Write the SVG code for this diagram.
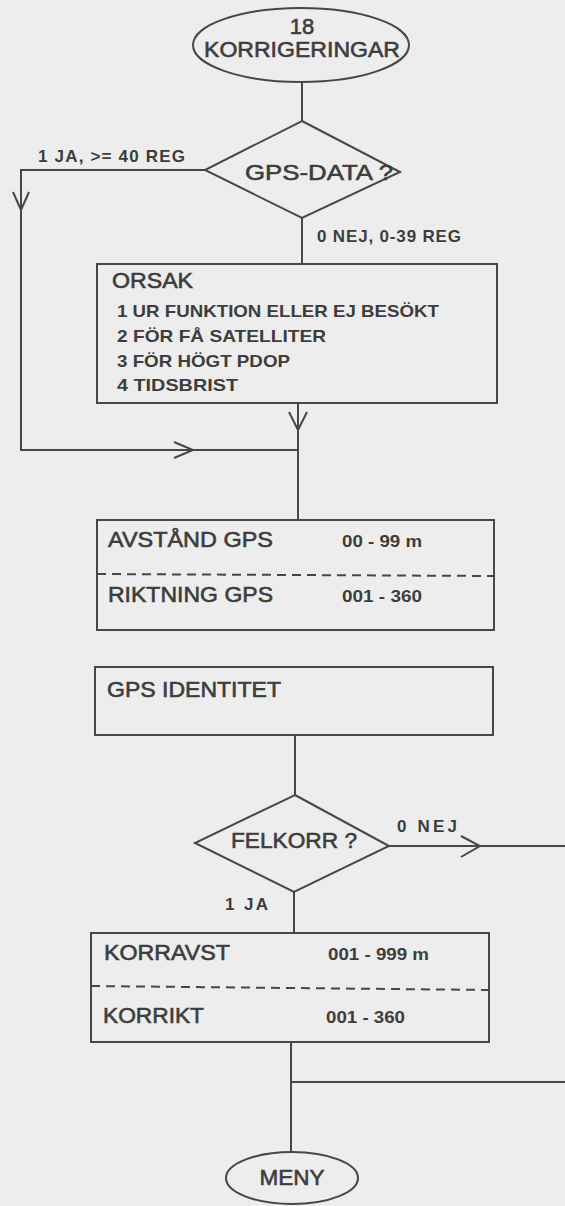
<svg xmlns="http://www.w3.org/2000/svg" width="565" height="1206" viewBox="0 0 565 1206">
<style>
.bg{fill:#ededed}
.shape{fill:none;stroke:#474747;stroke-width:2}
.line{fill:none;stroke:#474747;stroke-width:2}
.dash{fill:none;stroke:#474747;stroke-width:2;stroke-dasharray:9,6}
.chev{fill:none;stroke:#474747;stroke-width:2;stroke-linejoin:miter}
text{font-family:"Liberation Sans",Arial,Helvetica,sans-serif;fill:#3d3d3d}
.big{font-size:22px;stroke:#3d3d3d;stroke-width:0.6}
.small{font-size:17px;font-weight:bold}
.mid{font-weight:bold;font-size:17px}
</style>
<rect class="bg" x="0" y="0" width="565" height="1206"/>

<g id="connectors">
  <line class="line" x1="302" y1="82" x2="302" y2="121"/>
  <polyline class="line" points="205,170 21,170 21,450 298,450"/>
  <polyline class="chev" points="13,192 21,210 29,192"/>
  <polyline class="chev" points="174,442 193,450 174,458"/>
  <line class="line" x1="302" y1="218" x2="302" y2="264"/>
  <line class="line" x1="298" y1="403" x2="298" y2="520"/>
  <polyline class="chev" points="289,412 298,430 307,412"/>
  <line class="line" x1="295" y1="735" x2="295" y2="795"/>
  <line class="line" x1="389" y1="846" x2="565" y2="846"/>
  <polyline class="chev" points="461,836 480,846 461,857"/>
  <line class="line" x1="294" y1="892" x2="294" y2="933"/>
  <line class="line" x1="291" y1="1042" x2="291" y2="1152"/>
  <line class="line" x1="291" y1="1082" x2="565" y2="1082"/>
  <text class="small" x="38" y="162" textLength="147" lengthAdjust="spacing">1 JA, &gt;= 40 REG</text>
  <text class="small" x="317" y="242" textLength="144" lengthAdjust="spacing">0 NEJ, 0-39 REG</text>
  <text class="small" x="397" y="832" textLength="60" lengthAdjust="spacing">0 NEJ</text>
  <text class="small" x="225" y="910" textLength="43" lengthAdjust="spacing">1 JA</text>
</g>

<g id="start">
  <ellipse class="shape" cx="301" cy="45" rx="108" ry="37"/>
  <text class="big" x="302" y="34" text-anchor="middle">18</text>
  <text class="big" x="302" y="57" text-anchor="middle" textLength="196" lengthAdjust="spacingAndGlyphs">KORRIGERINGAR</text>
</g>

<g id="gpsdata">
  <polygon class="shape" points="302,121 400,172 302,218 205,170"/>
  <text class="big" x="245" y="180" textLength="148" lengthAdjust="spacingAndGlyphs">GPS-DATA ?</text>
</g>

<g id="orsak">
  <rect class="shape" x="97" y="264" width="400" height="139"/>
  <text class="big" x="112" y="288" textLength="81" lengthAdjust="spacingAndGlyphs">ORSAK</text>
  <text class="mid" x="117" y="317" textLength="322" lengthAdjust="spacingAndGlyphs">1 UR FUNKTION ELLER EJ BESÖKT</text>
  <text class="mid" x="117" y="342" textLength="209" lengthAdjust="spacingAndGlyphs">2 FÖR FÅ SATELLITER</text>
  <text class="mid" x="117" y="367" textLength="173" lengthAdjust="spacingAndGlyphs">3 FÖR HÖGT PDOP</text>
  <text class="mid" x="117" y="391" textLength="121" lengthAdjust="spacingAndGlyphs">4 TIDSBRIST</text>
</g>

<g id="avstand">
  <rect class="shape" x="97" y="520" width="397" height="110"/>
  <line class="dash" x1="97" y1="574" x2="495" y2="576"/>
  <text class="big" x="108" y="547" textLength="165" lengthAdjust="spacingAndGlyphs">AVSTÅND GPS</text>
  <text class="small" x="342" y="547" textLength="80" lengthAdjust="spacingAndGlyphs">00 - 99 m</text>
  <text class="big" x="108" y="602" textLength="165" lengthAdjust="spacingAndGlyphs">RIKTNING GPS</text>
  <text class="small" x="342" y="602" textLength="80" lengthAdjust="spacingAndGlyphs">001 - 360</text>
</g>

<g id="identitet">
  <rect class="shape" x="95" y="667" width="398" height="68"/>
  <text class="big" x="107" y="697" textLength="174" lengthAdjust="spacingAndGlyphs">GPS IDENTITET</text>
</g>

<g id="felkorr">
  <polygon class="shape" points="295,795 389,846 294,892 195,843"/>
  <text class="big" x="231" y="848" textLength="126" lengthAdjust="spacingAndGlyphs">FELKORR ?</text>
</g>

<g id="korr">
  <rect class="shape" x="91" y="933" width="398" height="109"/>
  <line class="dash" x1="91" y1="986" x2="489" y2="990"/>
  <text class="big" x="104" y="960" textLength="126" lengthAdjust="spacingAndGlyphs">KORRAVST</text>
  <text class="small" x="328" y="960" textLength="101" lengthAdjust="spacingAndGlyphs">001 - 999 m</text>
  <text class="big" x="103" y="1023" textLength="101" lengthAdjust="spacingAndGlyphs">KORRIKT</text>
  <text class="small" x="326" y="1023" textLength="79" lengthAdjust="spacingAndGlyphs">001 - 360</text>
</g>

<g id="meny">
  <ellipse class="shape" cx="292" cy="1178" rx="66" ry="26"/>
  <text class="big" x="292" y="1185" text-anchor="middle" textLength="65" lengthAdjust="spacingAndGlyphs">MENY</text>
</g>
</svg>
